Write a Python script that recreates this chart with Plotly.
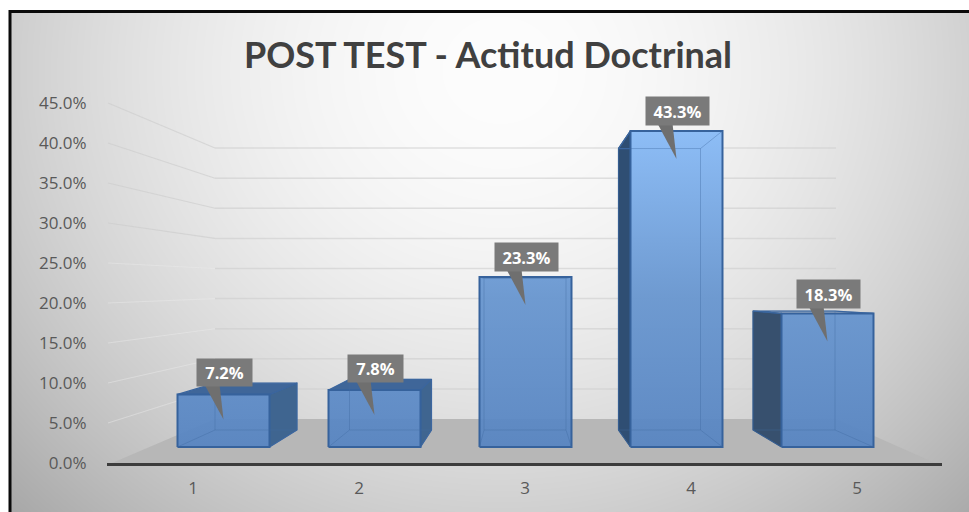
import base64, struct, zlib
import numpy as np
import plotly.graph_objects as go

# ---------- data ----------
categories = [1, 2, 3, 4, 5]
values = [0.072, 0.078, 0.233, 0.433, 0.183]
y_ticks = [0.0, 0.05, 0.10, 0.15, 0.20, 0.25, 0.30, 0.35, 0.40, 0.45]
title_text = "POST TEST - Actitud Doctrinal"

# ---------- canvas ----------
W, H = 969, 512
L, R, T, B = 107, 942, 95, 463
PX_X, PX_Y = 166.0, 800.0


def px(x):
    return (x - L) / (R - L)


def py(y):
    return (B - y) / (B - T)


def png_background():
    x0, y0 = 11, 13
    xs, ys = np.meshgrid(np.arange(x0, W), np.arange(y0, H))
    d = np.sqrt(((xs - 500) / 520.0) ** 2 + ((ys - 70) / 480.0) ** 2)
    g = np.clip(253 - 52 * d ** 1.8, 0, 255).astype(np.uint8)
    rows = b"".join(b"\x00" + r.tobytes() for r in g)

    def chunk(t, d_):
        return struct.pack(">I", len(d_)) + t + d_ + struct.pack(">I", zlib.crc32(t + d_))

    data = (b"\x89PNG\r\n\x1a\n"
            + chunk(b"IHDR", struct.pack(">IIBBBBB", g.shape[1], g.shape[0], 8, 0, 0, 0, 0))
            + chunk(b"IDAT", zlib.compress(rows))
            + chunk(b"IEND", b""))
    return "data:image/png;base64," + base64.b64encode(data).decode(), x0, y0


# ---------- 3-D projection in axis units ----------
def front_y(v):
    return (B - 447) / PX_Y + 0.9125 * v


def back_y(v):
    return (B - 430) / PX_Y + 0.8125 * v


def wall_y(v):
    return (B - 419) / PX_Y + 0.7525 * v


def to_x(pixel):
    return 1 + (pixel - 193) / PX_X


def front_x(c, s):
    return to_x(525.5 + 151 * (c - 3) + s * 46)


def back_x(c, s):
    return to_x(525 + 134.5 * (c - 3) + s * 41)


fig = go.Figure()


def poly(xs, ys, fill=None, line=None, lw=1.0, gradient=None):
    kw = dict(x=list(xs), y=list(ys), mode="lines", showlegend=False, hoverinfo="skip",
              line=dict(color=line or "rgba(0,0,0,0)", width=lw))
    if fill or gradient:
        kw["fill"] = "toself"
    if fill:
        kw["fillcolor"] = fill
    if gradient:
        kw["fillgradient"] = gradient
    fig.add_trace(go.Scatter(**kw))


# floor
poly([to_x(112), to_x(215), to_x(836), to_x(935), to_x(112)],
     [0, wall_y(0), wall_y(0), 0, 0], fill="#b7b7b7")

# gridlines: left wall + back wall
for t in y_ticks[1:]:
    left = "rgba(205,205,205,0.65)" if t >= 0.3 else "rgba(235,235,235,0.45)"
    poly([to_x(108), to_x(215)], [t, wall_y(t)], line=left, lw=1.1)
    poly([to_x(215), to_x(836)], [wall_y(t), wall_y(t)], line="rgba(205,205,205,0.6)", lw=1.5)

EDGE = "#3a659e"
INNER = "rgba(62,104,160,0.38)"
GRAD = dict(type="vertical", start=0.0, stop=0.42,
            colorscale=[[0, "rgba(84,130,192,0.93)"], [0.5, "rgba(107,152,208,0.97)"],
                        [1, "rgba(142,190,247,1)"]])

for c, v in zip(categories, values):
    fl, fr = front_x(c, -1), front_x(c, 1)
    bl, br = back_x(c, -1), back_x(c, 1)
    f0, f1 = front_y(0), front_y(v)
    b0, b1 = back_y(0), back_y(v)
    # outward side face
    if c < 3:
        poly([fr, br, br, fr, fr], [f0, b0, b1, f1, f0], fill="#3f6590", line=EDGE, lw=1.2)
        poly([fl, bl, br, fr, fl], [f1, b1, b1, f1, f1], fill="#3f6699", line=EDGE, lw=1.2)
    elif c > 3:
        side = "#2f4e73" if c == 4 else "#37506e"
        poly([fl, bl, bl, fl, fl], [f0, b0, b1, f1, f0], fill=side, line="#2f5686", lw=1.2)
        poly([fl, bl, br, fr, fl], [f1, b1, b1, f1, f1], line=EDGE, lw=1.2)
    # front face
    poly([fl, fr, fr, fl, fl], [f0, f0, f1, f1, f0], gradient=GRAD, line="#36629c", lw=2)
    # hidden edges seen through the front
    poly([bl, br, br, bl, bl], [b0, b0, b1, b1, b0], line=INNER, lw=1.0)
    poly([fl, bl], [f0, b0], line=INNER, lw=1.0)
    poly([fr, br], [f0, b0], line=INNER, lw=1.0)
    if c >= 3:
        poly([fr, br], [f1, b1], line=INNER, lw=1.0)
        poly([fl, bl], [f1, b1], line=INNER, lw=1.0)

# callouts
annotations = []
for c, v in zip(categories, values):
    low = c < 3
    cx_px = 525.5 + 151 * (c - 3) + 1
    center_up = 21.5 if low else 19.5
    tip_down = 25 if low else 28
    box_w, box_h = (55, 27) if v < 0.1 else (63, 28)
    ytop = front_y(v)
    wedge_y0 = ytop + (center_up - box_h / 2 + 2) / PX_Y
    poly([to_x(cx_px - 20), to_x(cx_px - 5), to_x(cx_px - 1), to_x(cx_px - 20)],
         [wedge_y0, wedge_y0, ytop - tip_down / PX_Y, wedge_y0], fill="#6f6f6f")
    annotations.append(dict(
        x=to_x(cx_px), y=ytop + center_up / PX_Y, xref="x", yref="y",
        text=f"<b>{v * 100:.1f}%</b>", showarrow=False, bgcolor="#7a7a7a",
        width=box_w, height=box_h, borderpad=0, align="center", valign="middle",
        font=dict(family="Open Sans", size=16.5, color="#ffffff")))

src, ix, iy = png_background()

fig.update_layout(
    width=W, height=H, autosize=False,
    margin=dict(l=L, r=W - R, t=T, b=H - B, pad=0),
    paper_bgcolor="#ffffff", plot_bgcolor="rgba(0,0,0,0)",
    showlegend=False,
    title=dict(text=f"<b>{title_text}</b>", x=488 / W, y=1 - 55 / H,
               xanchor="center", yanchor="middle",
               font=dict(family="Lato", size=36, color="#404040")),
    xaxis=dict(range=[to_x(L), to_x(R)], tickvals=categories, ticktext=[str(c) for c in categories],
               automargin=False,
               showgrid=False, zeroline=False, showline=True, linecolor="#3c3c3c", linewidth=2.5,
               ticks="outside", ticklen=8, tickcolor="rgba(0,0,0,0)",
               tickfont=dict(family="Open Sans", size=17, color="#595959"), fixedrange=True),
    yaxis=dict(range=[0, (B - T) / PX_Y], tickvals=y_ticks, tickformat=".1%",
               automargin=False,
               showgrid=False, zeroline=False, showline=False,
               ticks="outside", ticklen=16, tickcolor="rgba(0,0,0,0)",
               tickfont=dict(family="Open Sans", size=17, color="#595959"), fixedrange=True),
    images=[dict(source=src, xref="paper", yref="paper", x=px(ix), y=py(iy),
                 sizex=(W - ix) / (R - L), sizey=(H - iy) / (B - T),
                 xanchor="left", yanchor="top", sizing="stretch", layer="below")],
    shapes=[
        dict(type="line", xref="paper", yref="paper", x0=px(10), x1=px(10), y0=py(10), y1=py(H + 2),
             line=dict(color="#0a0a0a", width=3)),
        dict(type="line", xref="paper", yref="paper", x0=px(9), x1=px(W + 2), y0=py(11.5), y1=py(11.5),
             line=dict(color="#0a0a0a", width=3)),
    ],
    annotations=annotations,
)

fig.write_html("out.html", config=dict(displayModeBar=False),
               post_script="document.body.style.margin='0';document.body.style.overflow='hidden';")
